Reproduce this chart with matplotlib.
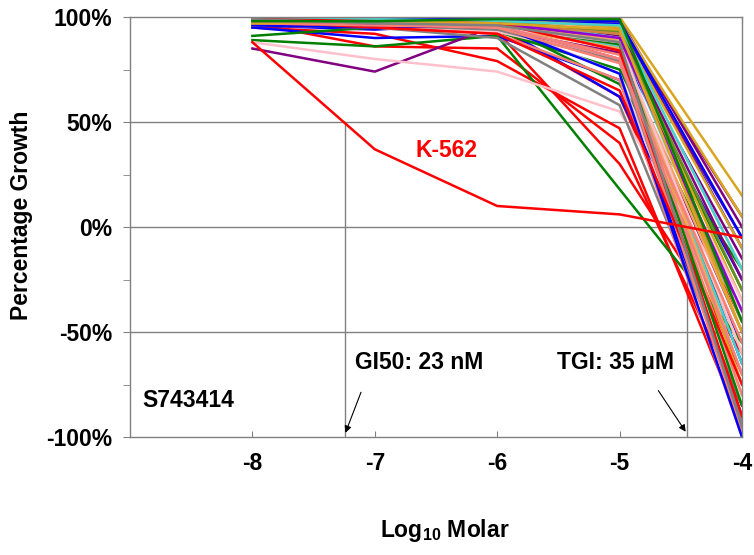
import matplotlib
matplotlib.use('Agg')
import matplotlib.pyplot as plt
from matplotlib.ticker import MultipleLocator

plt.rcParams['font.family'] = ['Liberation Sans', 'DejaVu Sans']
plt.rcParams['font.weight'] = 'bold'
plt.rcParams['mathtext.fontset'] = 'custom'
plt.rcParams['mathtext.rm'] = 'Liberation Sans:bold'

# log10 molar concentrations
conc = [-8, -7, -6, -5, -4]

# percentage growth per cell line
growth = [
    [97, 86, 85, 40, -85],
    [95, 92, 79, 47, -95],
    [98, 96, 95, 62, -70],
    [96, 95, 93, 30, -60],
    [99, 97, 96, 80, -45],
    [96, 94, 97, 85, -25],
    [95, 90, 91, 70, -90],
    [98, 97, 96, 62, -55],
    [97, 98, 99, 97, -10],
    [99, 96, 94, 88, -65],
    [89, 86, 91, 18, -55],
    [91, 95, 93, 75, -40],
    [97, 96, 98, 88, -30],
    [99, 98, 97, 68, -20],
    [85, 74, 96, 94, -5],
    [97, 97, 98, 96, 5],
    [96, 95, 97, 91, -15],
    [98, 96, 94, 83, -50],
    [99, 99, 99, 99, 0],
    [99, 99, 100, 100, 15],
    [98, 98, 99, 98, 5],
    [97, 97, 98, 92, -35],
    [96, 98, 97, 85, -60],
    [100, 99, 98, 90, -75],
    [88, 80, 74, 55, -40],
    [99, 98, 97, 73, -80],
    [100, 99, 98, 95, -20],
    [97, 96, 93, 80, -35],
    [98, 95, 90, 58, -85],
    [97, 96, 94, 79, -92],
    [99, 98, 99, 90, -45],
    [98, 97, 97, 86, -65],
    [96, 95, 92, 70, -100],
    [98, 97, 95, 82, -97],
    [99, 98, 96, 87, -80],
    [97, 96, 95, 85, -50],
    [98, 97, 96, 89, -70],
    [96, 95, 96, 73, -100],
    [98, 95, 92, 65, -75],
    [97, 96, 95, 94, -25],
    [98, 97, 96, 87, -85],
    [99, 99, 99, 95, -10],
    [98, 97, 95, 88, -60],
    [97, 97, 98, 93, -30],
    [99, 98, 97, 92, -45],
    [99, 99, 99, 98, -5],
    [97, 96, 95, 78, -55],
    [99, 99, 98, 96, -20],
    [98, 97, 97, 90, -40],
    [99, 98, 97, 84, -90],
    [97, 98, 97, 94, -50],
    [98, 97, 96, 80, -70],
    [99, 97, 96, 88, -95],
    [98, 98, 99, 99, -45],
]
colors = [
    'red', 'red', 'red', 'red', 'red',
    'blue', 'blue', 'blue', 'blue', 'blue',
    'green', 'green', 'green', 'green',
    'purple', 'purple', 'purple', 'purple', 'purple',
    'goldenrod', 'goldenrod', 'goldenrod', 'goldenrod', 'goldenrod',
    'pink', 'pink', 'pink', 'pink',
    'gray', 'gray',
    'mediumturquoise', 'mediumturquoise',
    'salmon', 'salmon', 'salmon',
    'sandybrown', 'sandybrown',
    'blue', 'red', 'purple', 'green', 'goldenrod', 'pink', 'olivedrab',
    'peru', 'blue', 'salmon', 'mediumturquoise', 'darkviolet', 'red',
    'goldenrod', 'lightcoral', 'gray', 'green',
]

k562 = [88, 37, 10, 6, -5]

gi50_x = -7.24
tgi_x = -4.45

fs = 16.5

fig = plt.figure(figsize=(7.54, 5.55), dpi=100)
ax = fig.add_axes([130/754, 1-437/555, 612/754, 420/555])

for y in [50, 0, -50]:
    ax.axhline(y, color='#808080', lw=1, zorder=1)
ax.plot([gi50_x, gi50_x], [50, -100], color='#808080', lw=1, zorder=1)
ax.plot([tgi_x, tgi_x], [0, -100], color='#808080', lw=1, zorder=1)

for g, c in zip(growth, colors):
    ax.plot(conc, g, color=c, lw=1.8, zorder=2)
ax.plot(conc, k562, color='red', lw=1.8, zorder=3)

ax.set_xlim(-9, -4)
ax.set_ylim(-100, 100)
ax.set_xticks(conc)
ax.set_xticklabels(['-8', '-7', '-6', '-5', '-4'])
ax.set_yticks([-100, -50, 0, 50, 100])
ax.set_yticklabels(['-100%', '-50%', '0%', '50%', '100%'])
ax.yaxis.set_minor_locator(MultipleLocator(25))
ax.tick_params(axis='x', direction='in', top=True, length=4, color='#808080',
               labelsize=fs, pad=11)
ax.tick_params(axis='y', which='both', direction='out', length=5,
               color='#808080', labelsize=fs, pad=8)
for s in ax.spines.values():
    s.set_color('#808080')
    s.set_linewidth(1)

fig.text(445/754, 1-531/555, 'Log$_{10}$ Molar', fontsize=fs,
         fontweight='bold', ha='center', va='center')
fig.text(22/754, 1-215/555, 'Percentage Growth', fontsize=fs,
         fontweight='bold', ha='center', va='center', rotation=90)

ax.text(-6.67, 36.6, 'K-562', color='red', fontsize=fs, fontweight='bold',
        va='center', ha='left')
ax.text(-8.90, -82.7, 'S743414', fontsize=fs, fontweight='bold', va='center')
ax.annotate('GI50: 23 nM', xy=(gi50_x, -98), xytext=(-7.16, -64.5),
            fontsize=fs, fontweight='bold', va='center', ha='left',
            arrowprops=dict(arrowstyle='-|>', color='black', lw=0.8,
                            mutation_scale=10, shrinkA=12, shrinkB=0,
                            relpos=(0.1, 0)))
ax.annotate('TGI: 35 \u03bcM', xy=(tgi_x - 0.01, -97.5), xytext=(-5.51, -64.5),
            fontsize=fs, fontweight='bold', va='center', ha='left',
            arrowprops=dict(arrowstyle='-|>', color='black', lw=0.8,
                            mutation_scale=10, shrinkA=12, shrinkB=0,
                            relpos=(0.77, 0)))

fig.savefig('out.png', dpi=100)
